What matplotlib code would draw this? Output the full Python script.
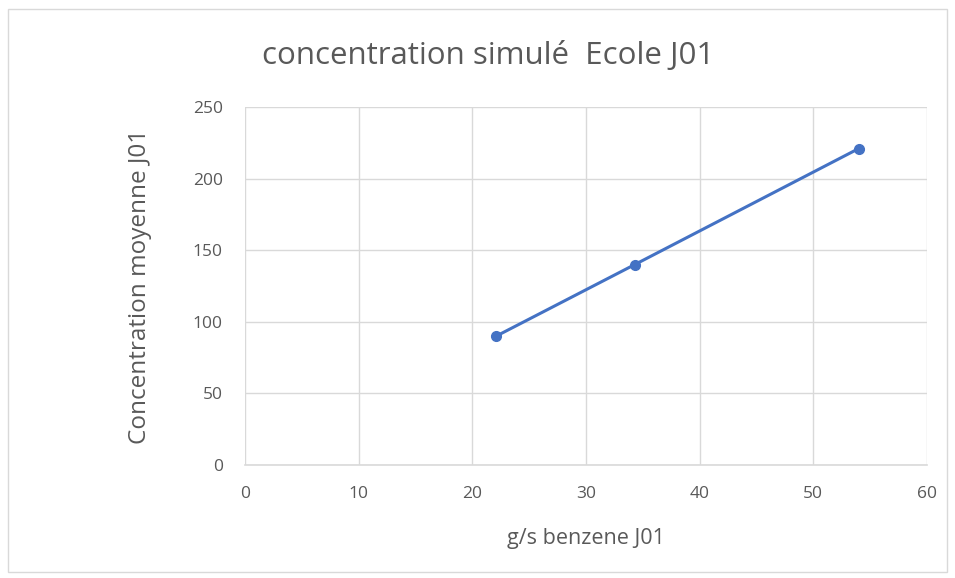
import matplotlib
matplotlib.use("Agg")
import matplotlib.pyplot as plt
from matplotlib.patches import Rectangle

# data
benzene_gs = [22.1, 34.3, 54.0]
concentration = [90, 140, 221]
x_ticks = [0, 10, 20, 30, 40, 50, 60]
y_ticks = [0, 50, 100, 150, 200, 250]

plt.rcParams['font.family'] = ['Open Sans', 'DejaVu Sans']
text_color = '#595959'
grid_color = '#d9d9d9'
line_color = '#4472c4'

fig = plt.figure(figsize=(9.55, 5.78), dpi=100)
fig.patches.append(Rectangle((0.008, 0.01), 0.984, 0.975, transform=fig.transFigure,
                             fill=False, edgecolor='#d9d9d9', linewidth=1))

ax = fig.add_axes([0.2565, 0.1955, 0.7142, 0.6194])
ax.plot(benzene_gs, concentration, color=line_color, linewidth=2.2,
        marker='o', markersize=7, zorder=3)

ax.set_xlim(0, 60)
ax.set_ylim(0, 250)
ax.set_xticks(x_ticks)
ax.set_yticks(y_ticks)
ax.grid(True, color=grid_color, linewidth=1)
ax.set_axisbelow(True)
for side in ['top', 'right', 'left']:
    ax.spines[side].set_visible(False)
ax.spines['bottom'].set_color(grid_color)
ax.spines['bottom'].set_linewidth(1.2)
ax.tick_params(length=0, colors=text_color, labelsize=12.5)
ax.tick_params(axis='y', pad=16)
ax.tick_params(axis='x', pad=15)

ax.set_xlabel("g/s benzene J01", color=text_color, fontsize=15.5, labelpad=19)
ax.set_ylabel("Concentration moyenne J01", color=text_color, fontsize=17.5,
              labelpad=29)
fig.text(0.511, 0.903, "concentration simulé  Ecole J01", color=text_color,
         fontsize=22.5, ha='center', va='center')

fig.savefig("out.png", dpi=100)
